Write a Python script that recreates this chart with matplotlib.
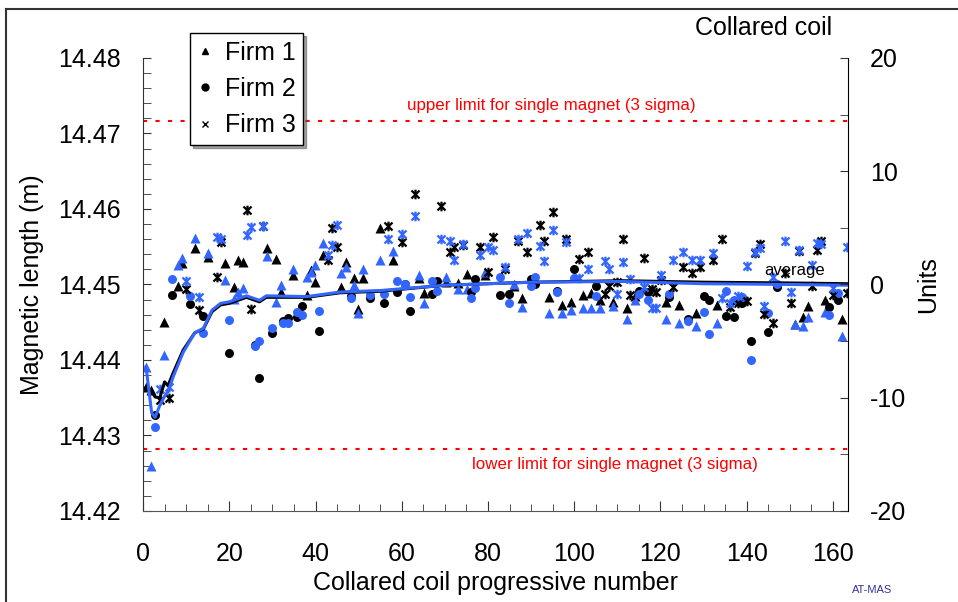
import matplotlib
matplotlib.use("Agg")
import numpy as np
import matplotlib.pyplot as plt
from matplotlib.path import Path
from matplotlib.lines import Line2D
from matplotlib.ticker import MultipleLocator, FormatStrFormatter

plt.rcParams['font.family'] = ['Liberation Sans', 'DejaVu Sans']
plt.rcParams['axes.unicode_minus'] = False

BLUE = '#3366ff'

# Firm 1 (triangles): coil number, aperture 1 (black), aperture 2 (blue)
f1_x = [0.8, 1.8, 4.9, 8.0, 9.1, 12.1, 15.0, 19.0, 21.1, 22.1, 23.1, 28.8, 30.8, 31.9, 34.8,
        38.0, 38.9, 39.9, 41.8, 45.9, 47.0, 48.9, 49.9, 51.0, 55.0, 58.0, 64.0, 65.2, 70.2,
        73.0, 75.1, 79.3, 86.0, 88.0, 94.1, 97.1, 99.2, 102.0, 104.0, 106.0, 109.0, 112.2,
        114.1, 121.3, 124.3, 128.2, 133.2, 151.2, 153.0, 154.2, 158.1, 162.2]
f1_black = [14.4364, 14.4360, 14.4450, 14.4498, 14.4528, 14.4548, 14.4536, 14.4528, 14.4497,
            14.4532, 14.4530, 14.4548, 14.4534, 14.4490, 14.4512, 14.4486, 14.4519, 14.4503,
            14.4539, 14.4497, 14.4530, 14.4509, 14.4468, 14.4509, 14.4575, 14.4532, 14.4508,
            14.4489, 14.4503, 14.4502, 14.4514, 14.4513, 14.4498, 14.4482, 14.4483, 14.4473,
            14.4477, 14.4486, 14.4489, 14.4480, 14.4477, 14.4469, 14.4485, 14.4477, 14.4473,
            14.4462, 14.4473, 14.4448, 14.4457, 14.4471, 14.4479, 14.4454]
f1_blue = [14.4391, 14.4260, 14.4406, 14.4526, 14.4535, 14.4561, 14.4542, 14.4506, 14.4481,
           14.4490, 14.4495, 14.4538, 14.4477, 14.4499, 14.4520, 14.4510, 14.4517, 14.4526,
           14.4555, 14.4515, 14.4523, 14.4499, 14.4462, 14.4520, 14.4532, 14.4544, 14.4513,
           14.4476, 14.4510, 14.4494, 14.4494, 14.4516, 14.4500, 14.4470, 14.4462, 14.4462,
           14.4466, 14.4469, 14.4469, 14.4469, 14.4472, 14.4454, 14.4479, 14.4454, 14.4449,
           14.4445, 14.4449, 14.4448, 14.4445, 14.4457, 14.4463, 14.4432]

# Firm 2 (circles)
f2_x = [2.8, 6.7, 10.9, 13.8, 19.9, 26.0, 26.9, 29.8, 32.5, 33.6, 35.7, 36.8, 40.8, 48.2, 52.6,
        55.9, 58.9, 60.8, 61.9, 67.0, 68.1, 76.1, 77.0, 82.9, 84.9, 89.9, 90.9, 95.9, 100.0,
        105.0, 115.0, 117.0, 122.0, 126.3, 130.1, 131.2, 135.2, 137.0, 139.0, 141.0, 145.0,
        147.0, 159.0, 161.2]
f2_black = [14.4327, 14.4486, 14.4474, 14.4458, 14.4409, 14.4420, 14.4376, 14.4436, 14.4452,
            14.4455, 14.4457, 14.4471, 14.4438, 14.4485, 14.4482, 14.4476, 14.4490, 14.4501,
            14.4465, 14.4487, 14.4505, 14.4490, 14.4507, 14.4486, 14.4487, 14.4507, 14.4500,
            14.4491, 14.4520, 14.4498, 14.4492, 14.4490, 14.4483, 14.4454, 14.4485, 14.4480,
            14.4458, 14.4457, 14.4475, 14.4425, 14.4437, 14.4497, 14.4470, 14.4480]
f2_blue = [14.4311, 14.4507, 14.4485, 14.4436, 14.4453, 14.4418, 14.4425, 14.4442, 14.4449,
           14.4449, 14.4463, 14.4459, 14.4465, 14.4482, 14.4486, 14.4487, 14.4505, 14.4500,
           14.4483, 14.4505, 14.4491, 14.4482, 14.4495, 14.4510, 14.4476, 14.4498, 14.4510,
           14.4490, 14.4508, 14.4485, 14.4487, 14.4479, 14.4487, 14.4451, 14.4463, 14.4434,
           14.4491, 14.4479, 14.4483, 14.4400, 14.4462, 14.4500, 14.4459, 14.4489]

# Firm 3 (stars)
f3_x = [3.9, 6.0, 9.9, 13.0, 17.1, 18.1, 24.0, 25.0, 27.8, 42.9, 43.8, 44.9, 56.9, 60.0, 63.0,
        69.1, 71.2, 72.1, 74.2, 78.1, 80.0, 81.2, 84.0, 87.0, 89.0, 92.0, 93.0, 95.0, 98.1,
        101.1, 103.2, 107.1, 108.0, 110.0, 111.2, 113.0, 116.2, 118.0, 119.0, 120.2, 123.0,
        125.2, 127.2, 129.2, 132.2, 134.3, 136.1, 138.0, 140.0, 141.9, 143.0, 144.0, 146.0,
        149.0, 150.2, 152.2, 155.2, 156.2, 157.2, 160.0, 163.2]
f3_black = [14.4347, 14.4350, 14.4494, 14.4466, 14.4510, 14.4556, 14.4599, 14.4467, 14.4577,
            14.4532, 14.4575, 14.4550, 14.4577, 14.4556, 14.4620, 14.4604, 14.4543, 14.4550,
            14.4552, 14.4550, 14.4516, 14.4563, 14.4520, 14.4558, 14.4543, 14.4579, 14.4558,
            14.4596, 14.4560, 14.4534, 14.4543, 14.4487, 14.4498, 14.4503, 14.4560, 14.4486,
            14.4535, 14.4494, 14.4490, 14.4506, 14.4497, 14.4523, 14.4515, 14.4523, 14.4532,
            14.4560, 14.4470, 14.4476, 14.4478, 14.4542, 14.4553, 14.4461, 14.4449, 14.4515,
            14.4476, 14.4544, 14.4498, 14.4545, 14.4558, 14.4486, 14.4489]
f3_blue = [14.4361, 14.4364, 14.4505, 14.4483, 14.4563, 14.4560, 14.4566, 14.4576, 14.4577,
           14.4539, 14.4552, 14.4579, 14.4560, 14.4567, 14.4591, 14.4560, 14.4558, 14.4532,
           14.4554, 14.4539, 14.4550, 14.4545, 14.4523, 14.4560, 14.4568, 14.4551, 14.4531,
           14.4572, 14.4556, 14.4508, 14.4520, 14.4531, 14.4520, 14.4488, 14.4530, 14.4507,
           14.4497, 14.4469, 14.4469, 14.4513, 14.4532, 14.4543, 14.4532, 14.4532, 14.4542,
           14.4482, 14.4475, 14.4485, 14.4524, 14.4543, 14.4548, 14.4471, 14.4510, 14.4558,
           14.4490, 14.4545, 14.4526, 14.4555, 14.4553, 14.4495, 14.4550]

# running averages
avg_x = [0.7, 2.0, 2.8, 3.9, 5.0, 5.8, 7.0, 9.3, 12.0, 14.0, 16.0, 18.0, 20.0, 24.0, 27.0,
         28.6, 38.0, 45.7, 55.0, 70.0, 90.0, 111.0, 130.0, 150.0, 163.5]
avg_black = [14.4364, 14.4358, 14.4351, 14.4350, 14.4371, 14.4366, 14.4383, 14.4413, 14.4436,
             14.4441, 14.4464, 14.4473, 14.4475, 14.4483, 14.4477, 14.4483, 14.4483, 14.4489,
             14.4491, 14.4499, 14.4503, 14.4505, 14.4503, 14.4502, 14.4501]
avg_blue = [14.4391, 14.4330, 14.4324, 14.4340, 14.4352, 14.4358, 14.4378, 14.4410, 14.4436,
            14.4442, 14.4466, 14.4475, 14.4477, 14.4485, 14.4479, 14.4485, 14.4484, 14.4490,
            14.4492, 14.4499, 14.4503, 14.4504, 14.4501, 14.4500, 14.4499]

upper_limit = 14.4717
lower_limit = 14.4282

star = Path([(-1, -1), (1, 1), (-1, 1), (1, -1), (0, -1.2), (0, 1.2)],
            [Path.MOVETO, Path.LINETO] * 3)

fig = plt.figure(figsize=(9.58, 6.02), dpi=100)
ax = fig.add_axes([0.1493, 0.1512, 0.7359, 0.7525])

for xs, yb, yl, mk, sz in [(f1_x, f1_black, f1_blue, '^', 52),
                          (f2_x, f2_black, f2_blue, 'o', 42),
                          (f3_x, f3_black, f3_blue, star, 48)]:
    lw = 1.6 if mk is star else 0
    ax.scatter(xs, yb, marker=mk, s=sz, color='black', linewidths=lw, zorder=2)
    ax.scatter(xs, yl, marker=mk, s=sz, color=BLUE, linewidths=lw, zorder=2)

ax.plot(avg_x, avg_black, color='black', lw=2.2, zorder=3)
ax.plot(avg_x, avg_blue, color=BLUE, lw=2.2, zorder=3)

ax.axhline(upper_limit, color='red', lw=1.5, ls=(0, (2, 4)))
ax.axhline(lower_limit, color='red', lw=1.5, ls=(0, (2, 4)))
ax.text(94.6, 14.4737, 'upper limit for single magnet (3 sigma)', color='red',
        fontsize=12.2, ha='center', va='center')
ax.text(109.4, 14.4261, 'lower limit for single magnet (3 sigma)', color='red',
        fontsize=12.2, ha='center', va='center')
ax.text(151, 14.4519, 'average', fontsize=12, ha='center', va='center')

ax.set_xlim(0, 163.5)
ax.set_ylim(14.42, 14.48)
ax.xaxis.set_major_locator(MultipleLocator(20))
ax.xaxis.set_minor_locator(MultipleLocator(5))
ax.yaxis.set_major_locator(MultipleLocator(0.01))
ax.yaxis.set_minor_locator(MultipleLocator(0.002))
ax.yaxis.set_major_formatter(FormatStrFormatter('%.2f'))
ax.tick_params(which='both', direction='in', labelsize=18, color='#333333')
ax.tick_params(axis='x', which='major', length=7, pad=22)
ax.tick_params(axis='x', which='minor', length=5)
ax.tick_params(axis='y', which='both', length=6, pad=16)
for s in ['top', 'right']:
    ax.spines[s].set_visible(False)
ax.spines['left'].set_color('#333333')
ax.spines['bottom'].set_color('#555555')
ax.set_xlabel('Collared coil progressive number', fontsize=18, labelpad=4)
ax.set_ylabel('Magnetic length (m)', fontsize=18, labelpad=10)

ax2 = ax.twinx()
ax2.set_ylim(-20, 20)
ax2.yaxis.set_major_locator(MultipleLocator(10))
ax2.yaxis.set_minor_locator(MultipleLocator(5))
ax2.tick_params(which='both', direction='in', length=6, labelsize=18, pad=16, color='#333333')
for s in ['top', 'left', 'bottom']:
    ax2.spines[s].set_visible(False)
ax2.spines['right'].set_color('black')
ax2.set_ylabel('Units', fontsize=18, labelpad=7)

handles = [Line2D([], [], ls='', marker='^', color='black', markersize=5),
           Line2D([], [], ls='', marker='o', color='black', markersize=5),
           Line2D([], [], ls='', marker='x', color='black', markersize=4, mew=1)]
leg = ax.legend(handles, ['Firm 1', 'Firm 2', 'Firm 3'], loc='upper left',
                bbox_to_anchor=(190 / 958, 1 - 33 / 602), bbox_transform=fig.transFigure,
                fontsize=18, frameon=True, fancybox=False, shadow=True,
                handlelength=0.6, handletextpad=0.5, borderpad=0.3, labelspacing=0.5,
                borderaxespad=0)
leg.get_frame().set_edgecolor('black')
leg.get_frame().set_linewidth(1.0)
leg.set_zorder(5)

fig.text(695 / 958, 1 - 28 / 602, 'Collared coil', fontsize=18, ha='left', va='center')
fig.text(872 / 958, 1 - 590 / 602, 'AT-MAS', fontsize=8, color='#333399', ha='center', va='center')

# outer border (top and left edges visible)
fig.add_artist(Line2D([6 / 958, 6 / 958], [0, 1 - 9 / 602], transform=fig.transFigure,
                      color='#333333', lw=1.5))
fig.add_artist(Line2D([6 / 958, 1], [1 - 9 / 602, 1 - 9 / 602], transform=fig.transFigure,
                      color='#333333', lw=1.5))

fig.savefig('out.png', dpi=100)
